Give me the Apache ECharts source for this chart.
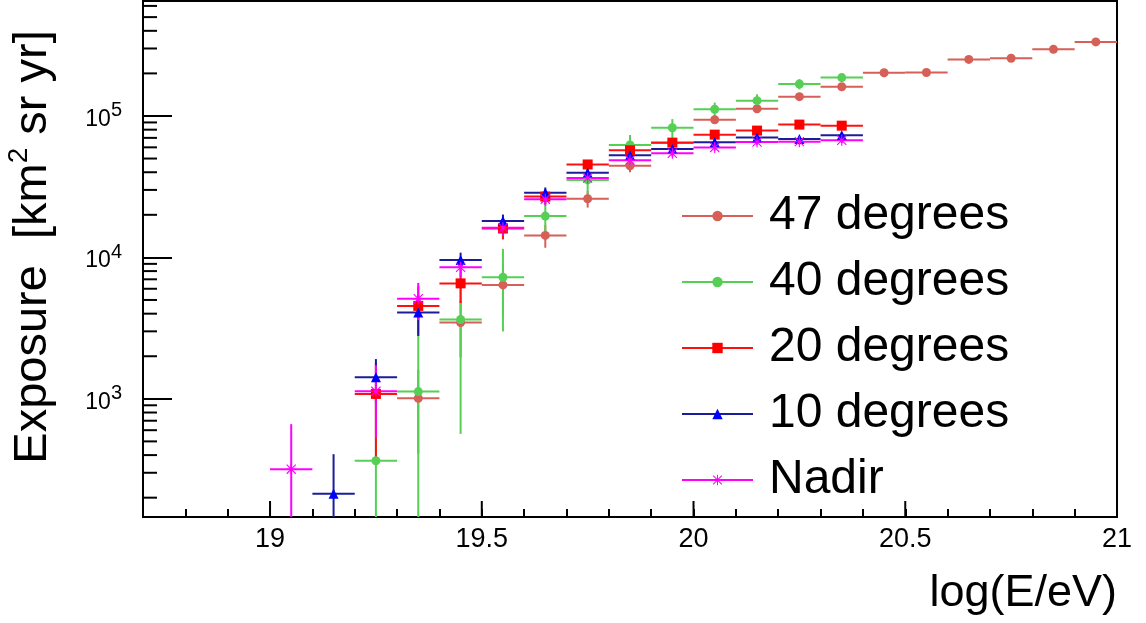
<!DOCTYPE html>
<html><head><meta charset="utf-8">
<script src="https://cdn.jsdelivr.net/npm/echarts@6/dist/echarts.min.js"></script>
<style>html,body{margin:0;padding:0;background:#fff}#c{width:1146px;height:623px}</style>
</head><body><div id="c"></div>
<script>
// ---------- data ----------
const seriesNames = ['47 degrees', '40 degrees', '20 degrees', '10 degrees', 'Nadir'];

const bins47 = [19.35,19.45,19.55,19.65,19.75,19.85,19.95,20.05,20.15,20.25,20.35,20.45,20.55,20.65,20.75,20.85,20.95];
const val47  = [1010,3460,6390,14300,26000,44500,64500,94000,112500,137000,161000,202000,203000,251000,256000,296000,334000];
const err47  = [600,1500,2500,2600,3500,4500,5000,5000,5000,5000,5000,5000,5000,6000,6000,6000,6000];

const bins40 = [19.25,19.35,19.45,19.55,19.65,19.75,19.85,19.95,20.05,20.15,20.25,20.35];
const val40  = [365,1125,3640,7240,19600,35300,62400,82500,111500,128300,168300,186700];
const err40  = [650,1710,3075,4245,5500,8500,11000,12500,12800,14000,14000,11000];

const bins20 = [19.25,19.35,19.45,19.55,19.65,19.75,19.85,19.95,20.05,20.15,20.25,20.35];
const val20  = [1083,4540,6550,16000,26900,45400,57200,64800,73800,78800,86900,85400];
const err20  = [700,1700,1800,2600,3000,3000,3000,3000,3000,3000,3000,3000];

const bins10 = [19.15,19.25,19.35,19.45,19.55,19.65,19.75,19.85,19.95,20.05,20.15,20.25,20.35];
const val10  = [213,1420,4080,9600,18100,28700,39700,52800,58400,65300,70500,68600,73100];
const err10  = [193,490,1300,1200,2000,2500,2500,3000,3000,3000,3000,3000,3000];

const binsN  = [19.05,19.25,19.35,19.45,19.55,19.65,19.75,19.85,19.95,20.05,20.15,20.25,20.35];
const valN   = [318,1130,5100,8500,16200,25800,36400,48700,54500,59900,65500,65800,67300];
const errN   = [344,600,1500,1300,2000,2500,2500,3000,3000,3000,3000,3000,3000];

const binHalfWidth = 0.05;
const xLabelTicks = [19, 19.5, 20, 20.5, 21];
const yMinorMantissas = [2,3,4,5,6,7,8,9];
const yDecades = [100, 1000, 10000, 100000];

// ---------- axes ranges & styles ----------
const xMin = 18.7, xMax = 21, yMin = 146, yMax = 650000;
const FONT = "'Liberation Sans', Arial, Helvetica, sans-serif";

const yMinorTicks = [];
yDecades.forEach(d => yMinorMantissas.forEach(m => { const v = m * d; if (v > yMin && v < yMax) yMinorTicks.push(v); }));

const styles = [
  { marker: '#d65f58', line: '#d65f58', symbol: 'circle', size: 9 },
  { marker: '#55d055', line: '#55d055', symbol: 'circle', size: 9 },
  { marker: '#ff0000', line: '#ff1010', symbol: 'rect', size: 10 },
  { marker: '#0000ff', line: '#1c1c9a', symbol: 'triangle', size: 10 },
  { marker: '#ff00ff', line: '#ff00ff', symbol: 'path://M9,0L11,0L11,20L9,20Z M0,9L20,9L20,11L0,11Z M1,2.4L2.4,1L19,17.6L17.6,19Z M17.6,1L19,2.4L2.4,19L1,17.6Z', size: 11 }
];
const sets = [
  [bins47, val47, err47],
  [bins40, val40, err40],
  [bins20, val20, err20],
  [bins10, val10, err10],
  [binsN, valN, errN]
];

function errRender(color) {
  return function (params, api) {
    const x = api.value(0), y = api.value(1), e = api.value(2);
    const lo = Math.max(y - e, yMin), hi = Math.min(y + e, yMax);
    const pL = api.coord([x - binHalfWidth, y]);
    const pR = api.coord([x + binHalfWidth, y]);
    const pLo = api.coord([x, lo]);
    const pHi = api.coord([x, hi]);
    const st = { stroke: color, lineWidth: 2 };
    return { type: 'group', children: [
      { type: 'line', shape: { x1: pL[0], y1: pL[1], x2: pR[0], y2: pR[1] }, style: st },
      { type: 'line', shape: { x1: pLo[0], y1: pLo[1], x2: pHi[0], y2: pHi[1] }, style: st }
    ]};
  };
}

const series = [];
sets.forEach((s, i) => {
  series.push({
    name: seriesNames[i] + ' err', type: 'custom', z: 2, silent: true,
    renderItem: errRender(styles[i].line),
    encode: { x: 0, y: 1 },
    data: s[0].map((b, k) => [b, s[1][k], s[2][k]])
  });
});
sets.forEach((s, i) => {
  series.push({
    name: seriesNames[i], type: 'line', z: 3, silent: true,
    symbol: styles[i].symbol, symbolSize: styles[i].size, showAllSymbol: true,
    itemStyle: { color: styles[i].marker },
    lineStyle: { color: styles[i].line, width: 0, opacity: 0 },
    data: s[0].map((b, k) => [b, s[1][k]])
  });
});
series.push({
  name: 'yminor', type: 'custom', z: 4, silent: true,
  renderItem: function (params, api) {
    const p = api.coord([xMin, api.value(1)]);
    return { type: 'line', shape: { x1: p[0], y1: p[1], x2: p[0] + 14, y2: p[1] }, style: { stroke: '#000', lineWidth: 2 } };
  },
  encode: { x: 0, y: 1 },
  data: yMinorTicks.map(v => [xMin, v])
});
series.push({
  name: 'xmajor', type: 'custom', z: 4, silent: true,
  renderItem: function (params, api) {
    const p = api.coord([api.value(0), yMin]);
    return { type: 'line', shape: { x1: p[0], y1: p[1], x2: p[0], y2: p[1] - 16 }, style: { stroke: '#000', lineWidth: 2 } };
  },
  encode: { x: 0, y: 1 },
  data: xLabelTicks.map(v => [v, yMin])
});

const chart = echarts.init(document.getElementById('c'), null, { renderer: 'canvas' });
chart.setOption({
  animation: false,
  backgroundColor: '#fff',
  textStyle: { fontFamily: FONT },
  grid: { left: 143, right: 29, top: 1, bottom: 106, show: true, borderColor: '#000', borderWidth: 2, containLabel: false, outerBoundsMode: 'none' },
  xAxis: {
    type: 'value', min: xMin, max: xMax, interval: 0.1,
    axisLine: { show: true, lineStyle: { color: '#000', width: 2 } },
    axisTick: { show: true, inside: true, length: 8, lineStyle: { color: '#000', width: 2 } },
    splitLine: { show: false },
    axisLabel: {
      color: '#000', fontSize: 27, fontFamily: FONT, margin: 9,
      formatter: function (v) {
        const r = Math.round(v * 10) / 10;
        for (const t of xLabelTicks) if (Math.abs(t - r) < 1e-6) return String(t);
        return '';
      }
    },
    name: 'log(E/eV)', nameLocation: 'end', nameGap: 0,
    nameTextStyle: { fontSize: 45, color: '#000', fontFamily: FONT, align: 'right', verticalAlign: 'top', padding: [54, 0, 0, 0] }
  },
  yAxis: {
    type: 'log', logBase: 10, min: yMin, max: yMax,
    axisLine: { show: true, lineStyle: { color: '#000', width: 2 } },
    axisTick: { show: true, inside: true, length: 29, lineStyle: { color: '#000', width: 2 } },
    splitLine: { show: false },
    axisLabel: {
      showMinLabel: false, showMaxLabel: false, margin: 21,
      formatter: function (v) { return '{b|10}{s|' + Math.round(Math.log10(v)) + '}'; },
      rich: {
        b: { fontSize: 23, color: '#000', fontFamily: FONT, lineHeight: 30, verticalAlign: 'bottom' },
        s: { fontSize: 20, color: '#000', fontFamily: FONT, verticalAlign: 'top' }
      }
    },
    name: '{a|Exposure  [km}{s|2}{a| sr yr]}', nameLocation: 'middle', nameRotate: 90, nameGap: 86,
    nameTextStyle: {
      padding: [0, 0, 0, 24],
      rich: {
        a: { fontSize: 47, color: '#000', fontFamily: FONT, lineHeight: 52, verticalAlign: 'bottom' },
        s: { fontSize: 28, color: '#000', fontFamily: FONT, verticalAlign: 'top' }
      }
    }
  },
  legend: {
    orient: 'vertical', left: 681, top: 192, itemWidth: 71, itemHeight: 13, itemGap: 18, padding: 0,
    selectedMode: false,
    textStyle: { fontSize: 48, color: '#000', fontFamily: FONT, lineHeight: 46, padding: [0, 0, 0, 11] },
    lineStyle: { width: 2, opacity: 1 },
    data: seriesNames
  },
  series: series
});
</script>
</body></html>
